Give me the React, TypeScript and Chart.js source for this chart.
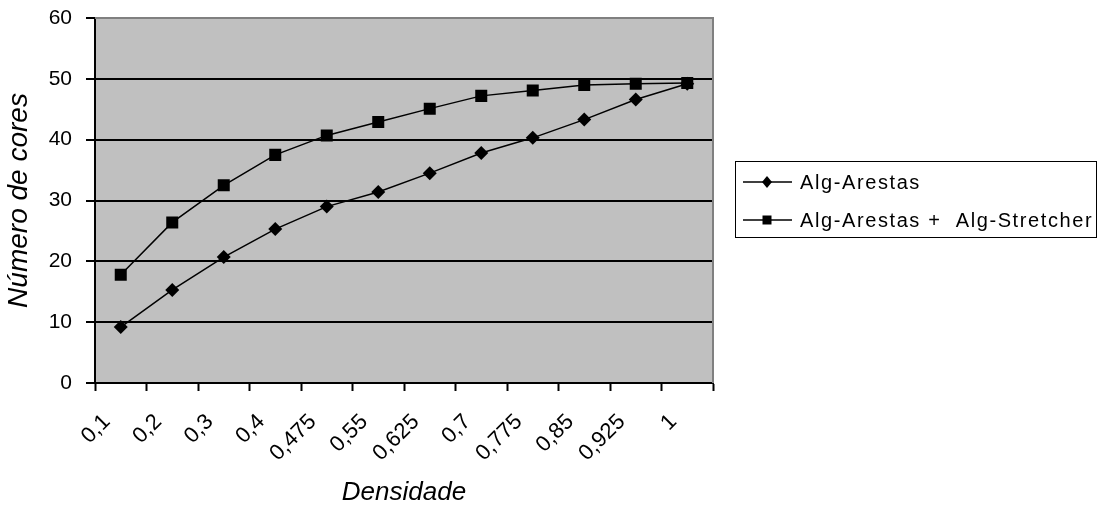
import React, { useEffect, useRef } from "react";
import { Chart, registerables } from "chart.js";

Chart.register(...registerables);

const densidades = ["0,1", "0,2", "0,3", "0,4", "0,475", "0,55", "0,625", "0,7", "0,775", "0,85", "0,925", "1"];
const algArestas = [9.2, 15.3, 20.7, 25.3, 29.0, 31.4, 34.5, 37.8, 40.3, 43.3, 46.6, 49.2];
const algArestasStretcher = [17.8, 26.4, 32.5, 37.5, 40.7, 42.9, 45.1, 47.2, 48.1, 49.0, 49.2, 49.3];
const yTicks = [0, 10, 20, 30, 40, 50, 60];
const seriesNames = ["Alg-Arestas", "Alg-Arestas +  Alg-Stretcher"];

const FONT = "'Liberation Sans', Arial, sans-serif";

const plotBg = {
  id: "plotBg",
  beforeDraw(chart: any) {
    const { ctx, chartArea: a } = chart;
    ctx.save();
    ctx.fillStyle = "#C0C0C0";
    ctx.fillRect(a.left, a.top, a.right - a.left, a.bottom - a.top);
    ctx.restore();
  },
  afterDatasetsDraw(chart: any) {
    const { ctx, chartArea: a } = chart;
    ctx.save();
    ctx.strokeStyle = "#808080";
    ctx.lineWidth = 2;
    ctx.beginPath();
    ctx.moveTo(a.left, a.top);
    ctx.lineTo(a.right, a.top);
    ctx.lineTo(a.right, a.bottom);
    ctx.stroke();
    ctx.restore();
  },
};

const boxLegend = {
  id: "boxLegend",
  afterDraw(chart: any) {
    const { ctx } = chart;
    ctx.save();
    ctx.strokeStyle = "#000";
    ctx.lineWidth = 1;
    ctx.strokeRect(735.5, 161.5, 361, 76);
    ctx.font = `20px ${FONT}`;
    (ctx as any).letterSpacing = "1.6px";
    ctx.textBaseline = "middle";
    ctx.fillStyle = "#000";
    chart.data.datasets.forEach((ds: any, i: number) => {
      const y = 182 + i * 38;
      ctx.beginPath();
      ctx.lineWidth = 1.5;
      ctx.moveTo(743, y);
      ctx.lineTo(792, y);
      ctx.stroke();
      ctx.beginPath();
      if (ds.pointStyle === "rect") {
        ctx.rect(762.5, y - 4.5, 9, 9);
      } else {
        ctx.moveTo(767, y - 6);
        ctx.lineTo(772, y);
        ctx.lineTo(767, y + 6);
        ctx.lineTo(762, y);
        ctx.closePath();
      }
      ctx.fill();
      ctx.fillText(ds.label, 800, y + 1);
    });
    ctx.restore();
  },
};

export default function App() {
  const ref = useRef<HTMLCanvasElement | null>(null);
  useEffect(() => {
    document.body.style.margin = "0";
    const chart = new Chart(ref.current as HTMLCanvasElement, {
      type: "line",
      data: {
        labels: densidades,
        datasets: [
          {
            label: seriesNames[0],
            data: algArestas,
            borderColor: "#000",
            backgroundColor: "#000",
            borderWidth: 1.5,
            pointStyle: "rectRot",
            pointRadius: 7,
            pointBorderWidth: 0,
            fill: false,
            tension: 0,
          },
          {
            label: seriesNames[1],
            data: algArestasStretcher,
            borderColor: "#000",
            backgroundColor: "#000",
            borderWidth: 1.5,
            pointStyle: "rect",
            pointRadius: 8.5,
            pointBorderWidth: 0,
            fill: false,
            tension: 0,
          },
        ],
      },
      options: {
        animation: false,
        responsive: true,
        maintainAspectRatio: false,
        layout: { autoPadding: false, padding: { top: 18, right: 386, left: 0, bottom: 0 } },
        plugins: { legend: { display: false }, tooltip: { enabled: false } },
        scales: {
          x: {
            type: "category",
            offset: true,
            afterFit: (s: any) => {
              s.height = 129;
            },
            grid: {
              offset: true,
              drawOnChartArea: false,
              drawTicks: true,
              tickLength: 8,
              tickColor: "#000",
              tickWidth: 2,
            },
            border: { display: true, color: "#000", width: 2 },
            ticks: {
              autoSkip: false,
              minRotation: 45,
              maxRotation: 45,
              labelOffset: -14,
              padding: 18,
              color: "#000",
              font: { family: FONT, size: 22 },
            },
            title: {
              display: true,
              text: "Densidade",
              color: "#000",
              font: { family: FONT, size: 26, style: "italic", lineHeight: 1.2 },
              padding: { top: 0, bottom: 4 },
            },
          },
          y: {
            min: 0,
            max: 60,
            afterFit: (s: any) => {
              s.width = 95;
              s.paddingTop = 0;
              s.paddingBottom = 0;
            },
            afterBuildTicks: (s: any) => {
              s.ticks = yTicks.map((v) => ({ value: v }));
            },
            grid: {
              color: (c: any) => (c.tick && c.tick.value === 60 ? "rgba(0,0,0,0)" : "#000"),
              lineWidth: 2,
              drawTicks: true,
              tickLength: 9,
              tickColor: "#000",
              tickWidth: 2,
            },
            border: { display: true, color: "#000", width: 2 },
            ticks: {
              padding: 14,
              color: "#000",
              font: { family: FONT, size: 21 },
            },
            title: {
              display: true,
              text: "Número de cores",
              color: "#000",
              font: { family: FONT, size: 28, style: "italic", lineHeight: 1.2 },
              padding: { top: 2, bottom: 0 },
            },
          },
        },
      },
      plugins: [plotBg, boxLegend],
    });
    return () => chart.destroy();
  }, []);
  return (
    <div style={{ position: "relative", width: 1099, height: 512 }}>
      <canvas ref={ref} />
    </div>
  );
}
